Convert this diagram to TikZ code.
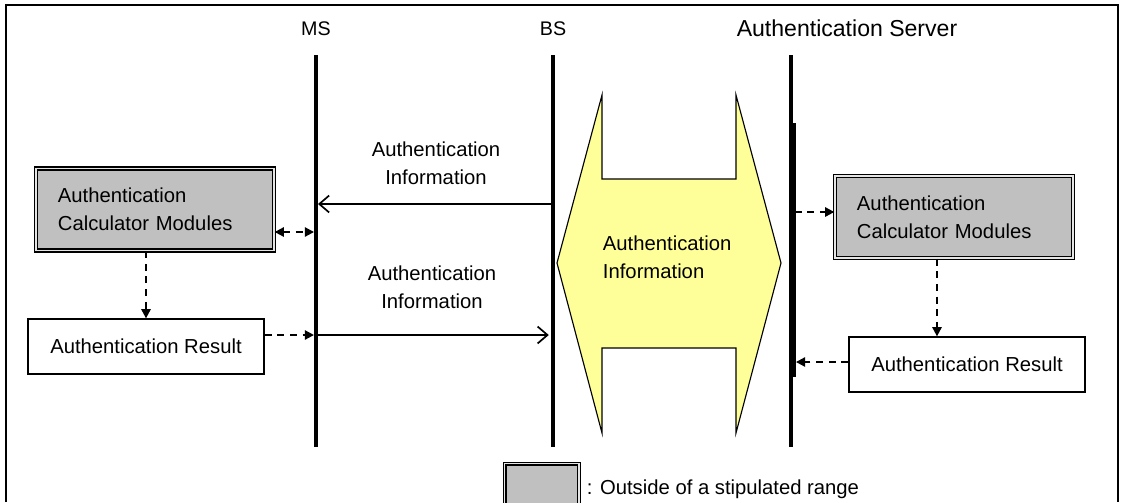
\documentclass[tikz,border=0pt]{standalone}
\usepackage{fontspec}
\setmainfont{Liberation Sans}
\usetikzlibrary{arrows.meta,positioning}
\definecolor{calcgray}{HTML}{C0C0C0}
\definecolor{infoyellow}{HTML}{FFFF99}

\begin{document}
\begin{tikzpicture}[
  x=0.025cm, y=-0.025cm,
  every node/.style={font=\fontsize{14.4}{20}\selectfont},
  life/.style={line width=2.8pt},
  calcbox/.style={rectangle, draw, line width=0.9pt, double=white!80!gray,
                  double distance=1.2pt, fill=calcgray, align=left,
                  text width=4.85cm, inner xsep=0.55cm, minimum height=2.05cm},
  resbox/.style={rectangle, draw, line width=0.9pt, fill=white,
                 minimum width=5.9cm, minimum height=1.375cm},
  dasharrow/.style={dashed, dash pattern=on 5pt off 4pt, line width=1.4pt,
                    -{Triangle[length=6.5pt,width=6.5pt]}},
  msg/.style={line width=1.2pt, -{Straight Barb[length=7pt,width=12pt]}},
  >=Stealth
]
  \useasboundingbox (0,0) rectangle (1124,502);

  % Frame
  \draw[line width=1.4pt] (6,502) -- (6,5) -- (1118,5) -- (1118,502);

  % Lifelines
  \node[font=\fontsize{14}{16}\selectfont] (ms) at (316,29) {MS};
  \node[font=\fontsize{14}{16}\selectfont] (bs) at (553,29) {BS};
  \node[font=\fontsize{16.4}{19}\selectfont] (as) at (847,28) {Authentication Server};
  \coordinate (ms top) at (316,55);
  \coordinate (ms bot) at (316,447);
  \coordinate (bs top) at (553,55);
  \coordinate (bs bot) at (553,447);
  \coordinate (as top) at (791,55);
  \coordinate (as bot) at (791,447);
  \draw[life] (ms top) -- (ms bot);
  \draw[life] (bs top) -- (bs bot);
  \draw[life] (as top) -- (as bot);
  \draw[line width=2.2pt] (794,123) -- (794,377);

  % Exchanged information
  \draw[fill=infoyellow, line width=0.8pt]
    (557,263) -- (602,95) -- (602,179) -- (736,179) -- (736,95) -- (781,263)
    -- (736,433) -- (736,348) -- (602,348) -- (602,433) -- cycle;
  \node[align=left, anchor=west] (infoC) at (598,257) {Authentication\\Information};

  % MS side
  \node[calcbox] (calcL) at (155,209.5) {Authentication\\Calculator Modules};
  \node[resbox] (resL) at (146,346.5) {Authentication Result};
  \coordinate (yCalcL) at (0,232);
  \coordinate (yResL) at (0,335);
  \draw[dasharrow] (calcL.south -| resL.north) -- (resL.north);
  \draw[dasharrow, {Triangle[length=6.5pt,width=6.5pt]}-{Triangle[length=6.5pt,width=6.5pt]}]
    (calcL.east |- yCalcL) -- ([xshift=-1.4pt]ms top |- yCalcL);
  \draw[dasharrow] (resL.east |- yResL) -- ([xshift=-1.4pt]ms top |- yResL);

  % Messages between MS and BS
  \node[align=center] (info1) at (436,163) {Authentication\\Information};
  \node[align=center] (info2) at (432,287) {Authentication\\Information};
  \coordinate (yMsg1) at (0,204);
  \coordinate (yMsg2) at (0,335);
  \draw[msg] (bs top |- yMsg1) -- ([xshift=1.4pt]ms top |- yMsg1);
  \draw[msg] (ms top |- yMsg2) -- ([xshift=-3pt]bs top |- yMsg2);

  % Authentication Server side
  \node[calcbox] (calcR) at (954,217) {Authentication\\Calculator Modules};
  \node[resbox] (resR) at (967,364.5) {Authentication Result};
  \coordinate (yCalcR) at (0,212);
  \coordinate (yResR) at (0,362);
  \coordinate (xDown) at (937,0);
  \draw[dasharrow] ([xshift=2.5pt]as top |- yCalcR) -- (calcR.west |- yCalcR);
  \draw[dasharrow] (calcR.south -| xDown) -- (resR.north -| xDown);
  \draw[dasharrow] (resR.west |- yResR) -- ([xshift=3.5pt]as top |- yResR);

  % Legend
  \node[calcbox, text width=, inner xsep=0pt, minimum width=1.85cm, minimum height=1.05cm,
        anchor=north west] (legend) at (504,463) {};
  \node[anchor=west] (legendtxt) at (582,489) {: Outside of a stipulated range};
\end{tikzpicture}
\end{document}
